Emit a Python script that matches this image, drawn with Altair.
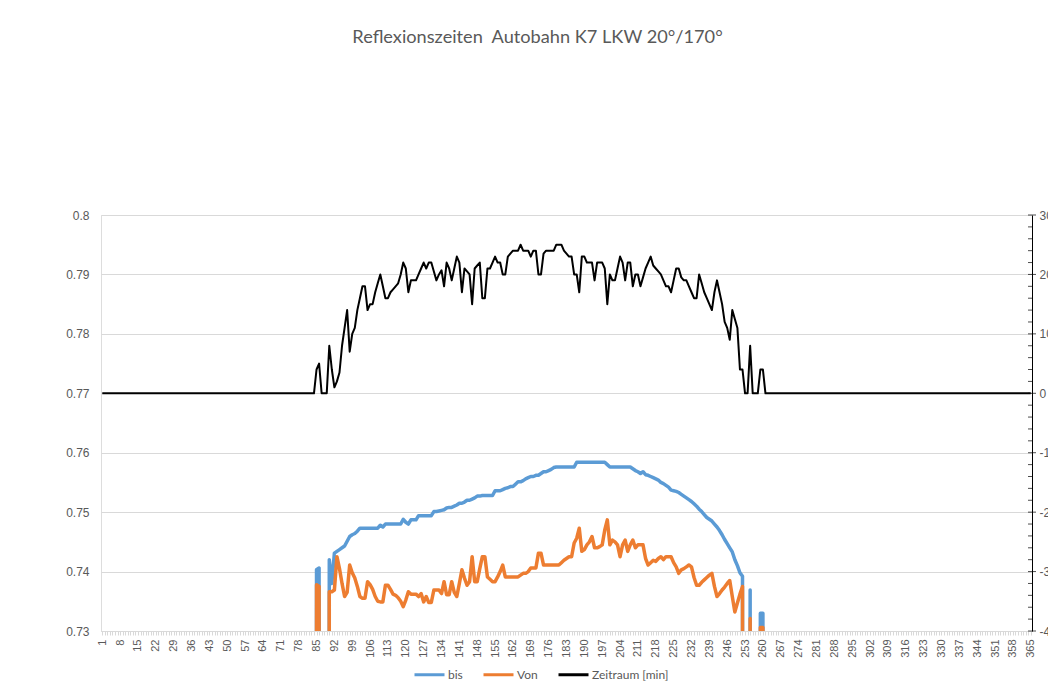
import altair as alt
import pandas as pd

# ---------------- data ----------------
TITLE = "Reflexionszeiten\u00a0 Autobahn K7 LKW 20°/170°"
SERIES = ["bis", "Von", "Zeitraum [min]"]
COLORS = ["#5B9BD5", "#ED7D31", "#000000"]

N_DAYS = 365
FIRST_DAY = 85  # first day of the value lists below (earlier / later days are 0)

# "bis" (end time, fraction of a day), days 85..260
BIS = [
    0.7403, 0.7406, 0, 0, 0, 0.742, 0.738, 0.7431, 0.7434, 0.7437, 0.744, 0.7443, 0.7451, 0.7459, 0.7462, 0.7464,
    0.7468, 0.7473, 0.7473, 0.7473, 0.7473, 0.7473, 0.7473, 0.7473, 0.7473, 0.7478,
    0.7475, 0.748, 0.748, 0.748, 0.748, 0.748, 0.748, 0.748, 0.7488, 0.7483,
    0.748, 0.7487, 0.7487, 0.7487, 0.7494, 0.7494, 0.7494, 0.7494, 0.7494, 0.7494,
    0.7501, 0.7501, 0.7502, 0.7503, 0.7504, 0.7507, 0.7508, 0.7508, 0.751, 0.7512,
    0.7515, 0.7515, 0.7517, 0.752, 0.752, 0.7522, 0.7524, 0.7527, 0.7527, 0.7528,
    0.7528, 0.7528, 0.7528, 0.7528, 0.7536, 0.7536, 0.7536, 0.7538, 0.754, 0.7541,
    0.7543, 0.7543, 0.7547, 0.7551, 0.7551, 0.7553, 0.7556, 0.7558, 0.756, 0.756,
    0.7562, 0.7562, 0.7565, 0.7568, 0.7568, 0.757, 0.7572, 0.7575, 0.7576, 0.7576,
    0.7576, 0.7576, 0.7576, 0.7576, 0.7576, 0.7576, 0.7584, 0.7584, 0.7584, 0.7584,
    0.7584, 0.7584, 0.7584, 0.7584, 0.7584, 0.7584, 0.7584, 0.7584, 0.758, 0.7576,
    0.7576, 0.7576, 0.7576, 0.7576, 0.7576, 0.7576, 0.7576, 0.7576, 0.7573, 0.757,
    0.7568, 0.7565, 0.7568, 0.7563, 0.7562, 0.756, 0.7558, 0.7556, 0.7554, 0.755,
    0.7548, 0.7545, 0.7542, 0.7537, 0.7536, 0.7535, 0.7533, 0.753, 0.7527, 0.7524,
    0.7521, 0.7518, 0.7514, 0.751, 0.7505, 0.7501, 0.7496, 0.7491, 0.7488, 0.7485,
    0.748, 0.7475, 0.7469, 0.7462, 0.7454, 0.7447, 0.744, 0.7433, 0.742, 0.741,
    0.7398, 0.7392, 0, 0, 0.7369, 0, 0, 0, 0.733, 0.733,
]

# "Von" (start time, fraction of a day), days 85..260
VON = [
    0.7378, 0.7375, 0, 0, 0, 0.7366, 0.7366, 0.7369, 0.7425, 0.7405, 0.738, 0.7358, 0.7365, 0.7411, 0.7398, 0.7389,
    0.7375, 0.7358, 0.7355, 0.7355, 0.7383, 0.7378, 0.737, 0.7358, 0.735, 0.7349,
    0.7349, 0.7377, 0.7377, 0.737, 0.7362, 0.736, 0.7356, 0.735, 0.7341, 0.7352,
    0.7366, 0.7362, 0.7362, 0.7362, 0.7358, 0.7363, 0.7349, 0.7358, 0.7348, 0.7348,
    0.7369, 0.7369, 0.7369, 0.7363, 0.7383, 0.7361, 0.7361, 0.7383, 0.7365, 0.7358,
    0.738, 0.7403, 0.7389, 0.7377, 0.7383, 0.7425, 0.7383, 0.7383, 0.7405, 0.7425,
    0.7425, 0.7391, 0.7387, 0.7383, 0.7383, 0.7391, 0.74, 0.7411, 0.7391, 0.7391,
    0.7391, 0.7391, 0.7391, 0.7391, 0.7394, 0.7397, 0.7397, 0.74, 0.7406, 0.7406,
    0.7406, 0.7431, 0.7431, 0.7411, 0.7411, 0.7411, 0.7411, 0.7411, 0.7411, 0.7411,
    0.7415, 0.7419, 0.7422, 0.7425, 0.7425, 0.7448, 0.7456, 0.7473, 0.7434, 0.7437,
    0.7445, 0.745, 0.7459, 0.744, 0.744, 0.7442, 0.7445, 0.747, 0.7487, 0.7445,
    0.7453, 0.745, 0.7445, 0.7425, 0.7445, 0.7453, 0.7434, 0.7445, 0.7453, 0.744,
    0.7445, 0.7445, 0.7445, 0.7422, 0.7411, 0.7415, 0.7419, 0.7417, 0.7422, 0.7425,
    0.742, 0.7425, 0.7425, 0.7425, 0.7415, 0.7408, 0.7397, 0.7403, 0.7405, 0.7408,
    0.7411, 0.7408, 0.739, 0.7377, 0.7377, 0.7382, 0.7386, 0.739, 0.7394, 0.7397,
    0.7375, 0.7358, 0.7363, 0.7369, 0.7374, 0.738, 0.7385, 0.7358, 0.7332, 0.7347,
    0.7362, 0.7375, 0, 0, 0.7321, 0, 0, 0, 0.7306, 0.7306,
]

# "Zeitraum [min]" (duration in minutes), days 85..260
ZEIT = [
    4, 5, 0, 0, 0, 8, 4, 1, 2, 3.5, 8, 11, 14, 7, 10, 11,
    14, 16, 18, 18, 14, 15, 15, 17, 18.5, 20,
    18, 16, 16, 17, 17.5, 18, 18.5, 20, 22, 21,
    17, 19, 19, 19, 20, 21, 22, 21, 22, 22,
    20.5, 19, 20, 20.7, 18, 22, 21, 19, 21, 23,
    22, 17, 21, 20.5, 20, 15, 21, 21.5, 22, 16,
    16, 21, 21, 22, 23, 22, 22, 20, 20, 23,
    23.5, 24, 24, 24, 25, 24, 24, 24, 23, 24,
    24, 20, 20, 23.5, 24, 24, 24, 24, 25, 25,
    25, 24, 23.5, 23, 23, 20, 20, 17, 23, 23,
    22, 22, 22, 19, 22, 22, 22, 21, 15, 20,
    19, 19, 21, 23, 22, 19, 22, 22, 18, 20,
    20, 18, 19.5, 21, 22, 23, 21.5, 21, 20.5, 20,
    19, 18, 18, 17, 19, 21, 21, 19.5, 19, 19,
    18, 17, 16, 16, 20, 18.5, 17, 16, 15, 14,
    17, 19, 17, 15, 12, 11, 9, 14, 12.5, 11,
    4, 4, 0, 0, 8, 0, 0, 0, 4, 4,
]

DAYS = list(range(1, N_DAYS + 1))
X_DOMAIN = [0.5, 365.5]
LEFT_TICKS = [0.73, 0.74, 0.75, 0.76, 0.77, 0.78, 0.79, 0.8]
LEFT_DOMAIN = [0.73, 0.8]
RIGHT_TICKS = [-40, -30, -20, -10, 0, 10, 20, 30]
RIGHT_MINOR = [-38, -36, -34, -32, -28, -26, -24, -22, -18, -16, -14, -12,
               -8, -6, -4, -2, 2, 4, 6, 8, 12, 14, 16, 18, 22, 24, 26, 28]
RIGHT_DOMAIN = [-40, 30]


def full_year(vals):
    before = [0.0] * (FIRST_DAY - 1)
    after = [0.0] * (N_DAYS - len(before) - len(vals))
    return before + list(vals) + after


series_df = pd.concat([
    pd.DataFrame({"day": DAYS, "value": full_year(BIS), "series": "bis"}),
    pd.DataFrame({"day": DAYS, "value": full_year(VON), "series": "Von"}),
])
df_z = pd.DataFrame({"day": DAYS, "value": full_year(ZEIT), "series": "Zeitraum [min]"})
df_major = pd.DataFrame({"day": [X_DOMAIN[1]] * len(RIGHT_TICKS), "value": RIGHT_TICKS})
df_minor = pd.DataFrame({"day": [X_DOMAIN[1]] * len(RIGHT_MINOR), "value": RIGHT_MINOR})

GRAY = "#595959"
FONT = "Lato"

x_enc = alt.X(
    "day:Q",
    scale=alt.Scale(domain=X_DOMAIN, nice=False, zero=False),
    axis=alt.Axis(
        values=DAYS,
        labelExpr="(datum.value - 1) % 7 == 0 ? '' + datum.value : ''",
        labelAngle=-90,
        labelOverlap=False,
        labelFontSize=11,
        labelColor=GRAY,
        labelPadding=4,
        tickSize=4,
        tickColor="#d9d9d9",
        domainColor="#d9d9d9",
        grid=False,
        title=None,
    ),
)

color_scale = alt.Scale(domain=SERIES, range=COLORS)
color_enc = alt.Color(
    "series:N",
    scale=color_scale,
    sort=SERIES,
    legend=alt.Legend(
        orient="none",
        legendX=312,
        legendY=443,
        direction="horizontal",
        title=None,
        symbolType="stroke",
        symbolSize=900,
        symbolStrokeWidth=3,
        labelFontSize=12,
        labelColor=GRAY,
        labelFont=FONT,
        columnPadding=14,
        labelOffset=2,
    ),
)

y_left = alt.Y(
    "value:Q",
    scale=alt.Scale(domain=LEFT_DOMAIN, nice=False, zero=False),
    axis=alt.Axis(
        orient="left",
        values=LEFT_TICKS,
        format=".2~f",
        ticks=False,
        domain=False,
        grid=True,
        gridColor="#d9d9d9",
        labelColor=GRAY,
        labelFontSize=12,
        labelPadding=12,
        title=None,
    ),
)

y_right = alt.Y(
    "value:Q",
    scale=alt.Scale(domain=RIGHT_DOMAIN, nice=False, zero=False),
    axis=alt.Axis(
        orient="right",
        values=RIGHT_TICKS,
        labelExpr="'' + datum.value",
        ticks=False,
        domain=True,
        domainColor="#000000",
        grid=False,
        labelColor=GRAY,
        labelFontSize=12,
        labelPadding=7,
        title=None,
    ),
)

# bis + Von on the left axis (Von drawn on top of bis)
left = alt.Chart(series_df).mark_line(clip=True, strokeWidth=3.5, strokeJoin="round").encode(
    x=x_enc, y=y_left, color=color_enc, order=alt.Order("day:Q"))

black = alt.Chart(df_z).mark_line(clip=True, strokeWidth=2, strokeJoin="round").encode(
    x=x_enc, y=y_right, color=color_enc)
major = alt.Chart(df_major).mark_tick(orient="horizontal", size=8, thickness=1, color="#000000").encode(
    x=x_enc, y=y_right)
minor = alt.Chart(df_minor).mark_tick(orient="horizontal", size=4, thickness=1, color="#000000", xOffset=-2).encode(
    x=x_enc, y=y_right)
right = alt.layer(black, major, minor)

chart = (
    alt.layer(left, right)
    .resolve_scale(y="independent")
    .properties(
        width=931,
        height=416,
        autosize=alt.AutoSizeParams(type="none"),
        padding={"left": 93, "top": 207, "right": 16, "bottom": 50},
        title=alt.TitleParams(
            TITLE, fontSize=18.2, font=FONT, fontWeight="normal", color=GRAY,
            offset=162, dx=-29, anchor="middle",
        ),
    )
    .configure_view(stroke=None)
    .configure_axis(labelFont=FONT)
    .configure(background="white")
)

chart.save("out.html", embed_options={"renderer": "svg", "actions": False})
